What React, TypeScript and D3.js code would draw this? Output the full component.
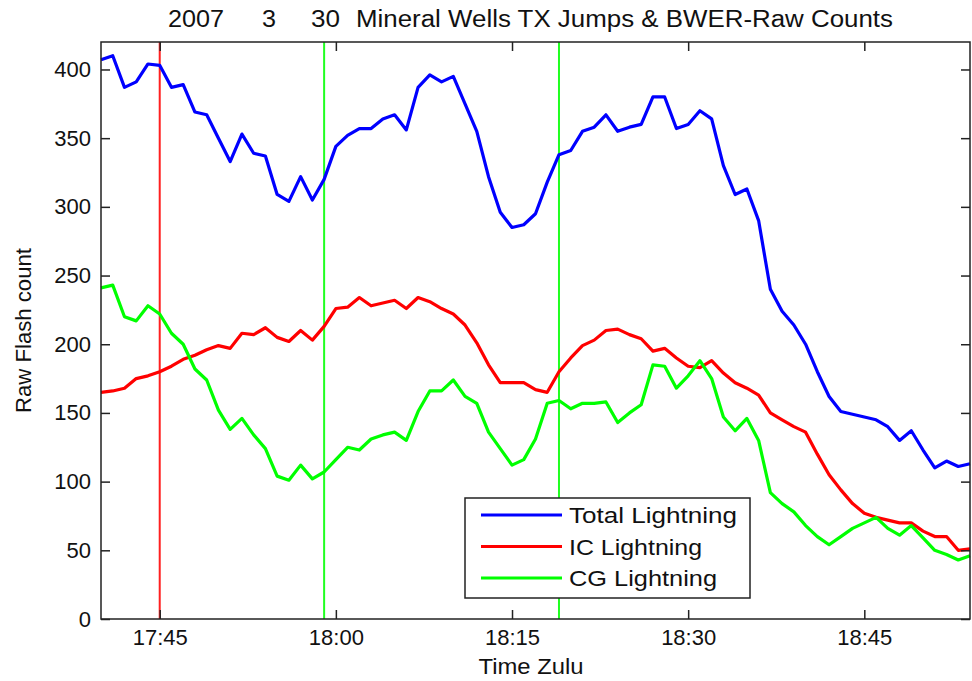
import React, { useEffect, useRef } from 'react';
import * as d3 from 'd3';

// one sample per minute, 17:40 .. 18:54 UTC
const startTime = new Date(Date.UTC(2007, 2, 30, 17, 40));
const endTime = new Date(Date.UTC(2007, 2, 30, 18, 54));

const totalCounts = [
  407, 410, 387, 391, 404, 403, 387, 389, 369, 367,
  350, 333, 353, 339, 337, 309, 304, 322, 305, 320,
  344, 352, 357, 357, 364, 367, 356, 387, 396, 391,
  395, 375, 355, 322, 296, 285, 287, 295, 318, 338,
  341, 355, 358, 367, 355, 358, 360, 380, 380, 357,
  360, 370, 364, 330, 309, 313, 290, 240, 224, 214,
  200, 180, 162, 151, 149, 147, 145, 140, 130, 137,
  123, 110, 115, 111, 113,
];

const icCounts = [
  165, 166, 168, 175, 177, 180, 184, 189, 192, 196,
  199, 197, 208, 207, 212, 205, 202, 210, 203, 213,
  226, 227, 234, 228, 230, 232, 226, 234, 231, 226,
  222, 214, 201, 185, 172, 172, 172, 167, 165, 180,
  190, 199, 203, 210, 211, 207, 204, 195, 197, 190,
  184, 183, 188, 179, 172, 168, 163, 150, 145, 140,
  136, 120, 105, 94, 84, 77, 74, 72, 70, 70,
  64, 60, 60, 50, 51,
];

const cgCounts = [
  241, 243, 220, 217, 228, 222, 208, 200, 182, 174,
  152, 138, 146, 134, 124, 104, 101, 112, 102, 107,
  116, 125, 123, 131, 134, 136, 130, 151, 166, 166,
  174, 162, 157, 136, 124, 112, 116, 131, 157, 159,
  153, 157, 157, 158, 143, 150, 156, 185, 184, 168,
  177, 188, 175, 147, 137, 146, 130, 92, 84, 78,
  68, 60, 54, 60, 66, 70, 74, 66, 61, 68,
  59, 50, 47, 43, 46,
];

const seriesNames = ['Total Lightning', 'IC Lightning', 'CG Lightning'];
const seriesColors = ['#0000ff', '#ff0000', '#00ff00'];

// event markers (jumps / BWER)
const markerTimes = [
  new Date(Date.UTC(2007, 2, 30, 17, 45)),
  new Date(Date.UTC(2007, 2, 30, 17, 59)),
  new Date(Date.UTC(2007, 2, 30, 18, 19)),
];
const markerColors = ['#ff2020', '#20ff20', '#20ff20'];

const xTicks = [
  new Date(Date.UTC(2007, 2, 30, 17, 45)),
  new Date(Date.UTC(2007, 2, 30, 18, 0)),
  new Date(Date.UTC(2007, 2, 30, 18, 15)),
  new Date(Date.UTC(2007, 2, 30, 18, 30)),
  new Date(Date.UTC(2007, 2, 30, 18, 45)),
];
const yTicks = [0, 50, 100, 150, 200, 250, 300, 350, 400];

const FONT = "'Liberation Sans', Arial, Helvetica, sans-serif";

const App: React.FC = () => {
  const svgRef = useRef<SVGSVGElement>(null);

  useEffect(() => {
    if (!svgRef.current) return;
    const svg = d3.select(svgRef.current);
    svg.selectAll('*').remove();

    const W = 972;
    const H = 681;
    const margin = { top: 42, right: 2, bottom: 62, left: 101 };
    const innerW = W - margin.left - margin.right;
    const innerH = H - margin.top - margin.bottom;

    svg.append('rect').attr('width', W).attr('height', H).attr('fill', '#fff');

    const g = svg.append('g').attr('transform', `translate(${margin.left},${margin.top})`);

    const times = d3.utcMinute.range(startTime, new Date(+endTime + 1));

    const x = d3.scaleUtc().domain([startTime, endTime]).range([0, innerW]);
    const y = d3.scaleLinear().domain([0, 420]).range([innerH, 0]);

    // vertical markers
    g.selectAll('.marker')
      .data(markerTimes)
      .enter()
      .append('line')
      .attr('x1', d => x(d))
      .attr('x2', d => x(d))
      .attr('y1', 0)
      .attr('y2', innerH)
      .attr('stroke', (d, i) => markerColors[i])
      .attr('stroke-width', 2);

    const line = d3.line<number>()
      .x((d, i) => x(times[i]))
      .y(d => y(d));

    const allSeries = [totalCounts, icCounts, cgCounts];
    allSeries.forEach((s, i) => {
      g.append('path')
        .datum(s)
        .attr('d', line)
        .attr('fill', 'none')
        .attr('stroke', seriesColors[i])
        .attr('stroke-width', 3.2)
        .attr('stroke-linejoin', 'round');
    });

    // axes, matlab style ticks pointing inward
    const fmt = d3.utcFormat('%H:%M');
    const xAxis = g.append('g')
      .attr('transform', `translate(0,${innerH})`)
      .call(d3.axisBottom(x).tickValues(xTicks).tickFormat(d => fmt(d as Date)).tickSizeInner(-9).tickSizeOuter(0).tickPadding(10));
    const yAxis = g.append('g')
      .call(d3.axisLeft(y).tickValues(yTicks).tickSizeInner(-9).tickSizeOuter(0).tickPadding(10));
    const xTop = g.append('g')
      .call(d3.axisTop(x).tickValues(xTicks).tickFormat(() => '').tickSizeInner(-9).tickSizeOuter(0));
    const yRight = g.append('g')
      .attr('transform', `translate(${innerW},0)`)
      .call(d3.axisRight(y).tickValues(yTicks).tickFormat(() => '').tickSizeInner(-9).tickSizeOuter(0));

    [xAxis, yAxis, xTop, yRight].forEach(a => {
      a.select('.domain').remove();
      a.selectAll('line').attr('stroke', '#222').attr('stroke-width', 1.5);
      a.attr('font-size', 22).attr('font-family', FONT);
      a.selectAll('text').attr('fill', '#111');
    });

    // box
    g.append('rect')
      .attr('width', innerW)
      .attr('height', innerH)
      .attr('fill', 'none')
      .attr('stroke', '#222')
      .attr('stroke-width', 1.5);

    // legend
    const legend = g.append('g').attr('transform', `translate(${465 - margin.left},${498 - margin.top})`);
    legend.append('rect')
      .attr('width', 285)
      .attr('height', 100)
      .attr('fill', '#fff')
      .attr('stroke', '#222')
      .attr('stroke-width', 1.5);
    const legendWidths = [168, 133, 148];
    seriesNames.forEach((name, i) => {
      const ly = 17 + i * 31.5;
      legend.append('line')
        .attr('x1', 16).attr('x2', 97)
        .attr('y1', ly).attr('y2', ly)
        .attr('stroke', seriesColors[i])
        .attr('stroke-width', 3);
      legend.append('text')
        .attr('x', 104)
        .attr('y', ly + 8)
        .attr('font-size', 22)
        .attr('font-family', FONT)
        .attr('fill', '#111')
        .attr('textLength', legendWidths[i])
        .attr('lengthAdjust', 'spacingAndGlyphs')
        .text(name);
    });

    // axis labels
    svg.append('text')
      .attr('x', 531)
      .attr('y', 674)
      .attr('text-anchor', 'middle')
      .attr('font-size', 22)
      .attr('font-family', FONT)
      .attr('fill', '#111')
      .attr('textLength', 105)
      .attr('lengthAdjust', 'spacingAndGlyphs')
      .text('Time Zulu');

    svg.append('text')
      .attr('transform', `translate(31,${margin.top + innerH / 2}) rotate(-90)`)
      .attr('text-anchor', 'middle')
      .attr('font-size', 22)
      .attr('font-family', FONT)
      .attr('fill', '#111')
      .attr('textLength', 165)
      .attr('lengthAdjust', 'spacingAndGlyphs')
      .text('Raw Flash count');

    // title
    const titleParts = [
      { text: '2007', x: 168, w: 56 },
      { text: '3', x: 262, w: 14 },
      { text: '30', x: 311, w: 29 },
      { text: 'Mineral Wells TX Jumps & BWER-Raw Counts', x: 356, w: 537 },
    ];
    titleParts.forEach(p => {
      svg.append('text')
        .attr('x', p.x)
        .attr('y', 27)
        .attr('font-size', 23)
        .attr('font-family', FONT)
        .attr('fill', '#111')
        .attr('textLength', p.w)
        .attr('lengthAdjust', 'spacingAndGlyphs')
        .text(p.text);
    });
  }, []);

  return (
    <svg
      ref={svgRef}
      width={972}
      height={681}
      style={{ position: 'absolute', left: 0, top: 0, display: 'block' }}
    />
  );
};

export default App;
